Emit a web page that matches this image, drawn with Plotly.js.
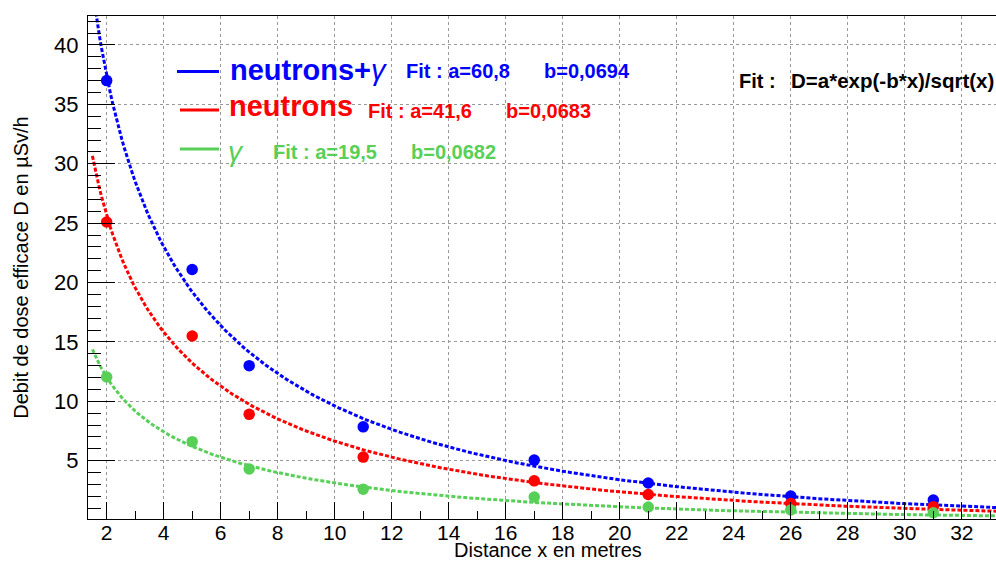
<!DOCTYPE html>
<html>
<head>
<meta charset="utf-8">
<script src="https://cdn.plot.ly/plotly-3.0.1.min.js"></script>
<style>html,body{margin:0;padding:0;background:#fff;}#chart{width:996px;height:563px;}</style>
</head>
<body>
<div id="chart"></div>
<script>
// ---- data ----
const distances = [2, 5, 7, 11, 17, 21, 26, 31];
const doseTotal = [37.0, 21.1, 13.0, 7.85, 5.05, 3.12, 2.03, 1.68];
const doseNeutrons = [25.1, 15.5, 8.9, 5.3, 3.3, 2.15, 1.4, 1.13];
const doseGamma = [12.05, 6.6, 4.3, 2.6, 1.94, 1.1, 0.85, 0.62];
// fit parameters as printed on the chart: D = a*exp(-b*x)/sqrt(x)
const fitA = [60.8, 41.6, 19.5];
const fitB = [0.0694, 0.0683, 0.0682];
const fitRange = [1.5, 33.2];
const seriesNames = ['neutrons+γ', 'neutrons', 'γ'];
const yTickVals = [5, 10, 15, 20, 25, 30, 35, 40];
const xTickVals = [2, 4, 6, 8, 10, 12, 14, 16, 18, 20, 22, 24, 26, 28, 30, 32];
const xTitle = 'Distance x en metres';
const yTitle = 'Debit de dose efficace D en µSv/h';

const colors = ['#0000ff', '#ff0000', '#58d058'];
const FONT = 'Liberation Sans, Arial, Helvetica, sans-serif';

// fit curve evaluated from printed parameters (function plot, like ROOT TF1)
function fitCurve(a, b) {
  const xs = [], ys = [];
  const n = 400;
  for (let i = 0; i <= n; i++) {
    const x = fitRange[0] + (fitRange[1] - fitRange[0]) * i / n;
    xs.push(x);
    ys.push(a * Math.exp(-b * x) / Math.sqrt(x));
  }
  return {xs, ys};
}

const dataSets = [doseTotal, doseNeutrons, doseGamma];
const traces = [];
dataSets.forEach((vals, i) => {
  const c = fitCurve(fitA[i], fitB[i]);
  traces.push({
    x: c.xs, y: c.ys, type: 'scatter', mode: 'lines', name: seriesNames[i] + ' fit',
    line: {color: colors[i], width: 3, dash: '4px,2px'}, showlegend: false, hoverinfo: 'skip'
  });
});
dataSets.forEach((vals, i) => {
  traces.push({
    x: distances, y: vals, type: 'scatter', mode: 'markers', name: seriesNames[i],
    marker: {color: colors[i], size: 11.5, symbol: 'circle'}, showlegend: false, cliponaxis: false
  });
});

// pixel -> paper helpers (layout only)
const L = 88, T = 16, W = 908, H = 503;
const px = v => (v - L) / W;
const py = v => (T + H - v) / H;

function ann(text, x, y, size, color, bold, xanchor, yanchor) {
  return {
    text: bold ? '<b>' + text + '</b>' : text,
    xref: 'paper', yref: 'paper', x: px(x), y: py(y),
    xanchor: xanchor || 'left', yanchor: yanchor || 'middle', showarrow: false,
    font: {family: FONT, size: size, color: color}
  };
}

const annotations = [
  ann('<b>neutrons+</b><i>γ</i>', 228, 70, 29, colors[0], false),
  ann('Fit : a=60,8', 404, 71, 20, colors[0], true),
  ann('b=0,0694', 542, 71, 20, colors[0], true),
  ann('neutrons', 227, 106, 29, colors[1], true),
  ann('Fit : a=41,6', 366, 111, 20, colors[1], true),
  ann('b=0,0683', 504, 111, 20, colors[1], true),
  ann('<i>γ</i>', 226, 151, 28, colors[2], false),
  ann('Fit : a=19,5', 271, 152, 20, colors[2], true),
  ann('b=0,0682', 409, 152, 20, colors[2], true),
  ann('Fit :', 737, 81, 20, '#000', true),
  ann('D=a*exp(-b*x)/sqrt(x)', 789, 81, 20.5, '#000', true),
  // x-axis title (placed as annotation so it can sit low in the margin)
  ann(xTitle, 548, 563, 20, '#000', false, 'center', 'bottom')
];

const shapes = [
  {type: 'line', xref: 'paper', yref: 'paper', x0: px(177), x1: px(219), y0: py(71.5), y1: py(71.5), line: {color: colors[0], width: 3}},
  {type: 'line', xref: 'paper', yref: 'paper', x0: px(180), x1: px(219), y0: py(110), y1: py(110), line: {color: colors[1], width: 3}},
  {type: 'line', xref: 'paper', yref: 'paper', x0: px(180), x1: px(219), y0: py(149), y1: py(149), line: {color: colors[2], width: 3}}
];

const layout = {
  width: 996, height: 563,
  margin: {l: L, r: 0, t: T, b: 563 - T - H, pad: 0},
  paper_bgcolor: '#fff', plot_bgcolor: '#fff',
  showlegend: false,
  font: {family: FONT, size: 20, color: '#000'},
  xaxis: {
    range: [1.345, 33.2], autorange: false,
    tickvals: xTickVals, ticktext: xTickVals.map(String),
    ticks: 'inside', ticklen: 17, tickwidth: 1, tickcolor: '#000',
    minor: {dtick: 1, tick0: 0, ticks: 'inside', ticklen: 8, tickcolor: '#000', showgrid: false},
    showline: true, linecolor: '#000', linewidth: 1, mirror: true,
    showgrid: true, gridcolor: '#999', griddash: 'dot', gridwidth: 1,
    zeroline: false,
    ticklabelstandoff: -5,
    tickfont: {family: FONT, size: 21, color: '#000'}
  },
  yaxis: {
    range: [0.09, 42.44], autorange: false,
    tickvals: yTickVals, ticktext: yTickVals.map(String),
    ticks: 'inside', ticklen: 27, tickwidth: 1, tickcolor: '#000',
    minor: {dtick: 1, tick0: 0, ticks: 'inside', ticklen: 13, tickcolor: '#000', showgrid: false},
    showline: true, linecolor: '#000', linewidth: 1, mirror: true,
    showgrid: true, gridcolor: '#999', griddash: 'dot', gridwidth: 1,
    zeroline: false,
    ticklabelstandoff: 4,
    tickfont: {family: FONT, size: 22, color: '#000'},
    title: {text: yTitle, font: {family: FONT, size: 20, color: '#000'}, standoff: 20}
  },
  annotations: annotations,
  shapes: shapes
};

Plotly.newPlot('chart', traces, layout, {displayModeBar: false, staticPlot: true});
</script>
</body>
</html>
